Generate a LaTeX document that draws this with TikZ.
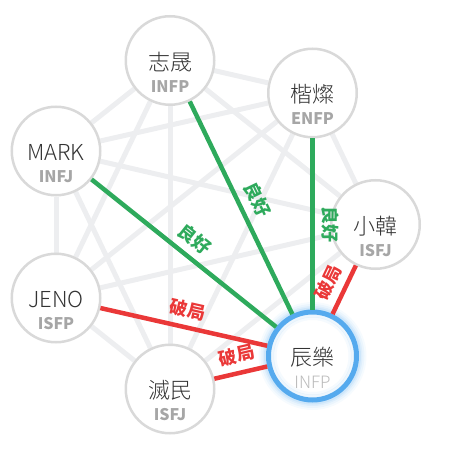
\documentclass[tikz,border=0pt]{standalone}
\usepackage{fontspec}
\setmainfont{Noto Sans CJK TC}
\newfontfamily\namefont{Noto Sans CJK TC Light}
\usetikzlibrary{backgrounds}
\definecolor{edgegray}{HTML}{EDEEF0}
\definecolor{ringgray}{HTML}{D9D9D9}
\definecolor{goodgreen}{HTML}{2EAA5C}
\definecolor{badred}{HTML}{EA3838}
\definecolor{focusblue}{HTML}{55AAEE}
\definecolor{namegray}{HTML}{333333}
\definecolor{mbtigray}{HTML}{A6A6A6}
\definecolor{mbtilight}{HTML}{BABABA}
\tikzset{
  person/.style={circle, draw=ringgray, line width=2.5pt, fill=white, minimum size=88.5pt, inner sep=0pt},
  focus/.style={circle, draw=focusblue, line width=5pt, fill=white, minimum size=88pt, inner sep=0pt},
  nametext/.style={text=namegray, font=\namefont\fontsize{22}{24}\selectfont, inner sep=0pt},
  mbtitext/.style={text=mbtigray, font=\bfseries\fontsize{16}{18}\selectfont, inner sep=0pt},
  mbtifocus/.style={text=mbtilight, font=\namefont\fontsize{17}{19}\selectfont, inner sep=0pt},
  bgedge/.style={draw=edgegray, line width=5pt},
  goodedge/.style={draw=goodgreen, line width=4.5pt},
  badedge/.style={draw=badred, line width=4.5pt},
  goodlab/.style={midway, sloped, above=7pt, inner sep=0pt, text=goodgreen, font=\bfseries\fontsize{18}{18}\selectfont},
  badlab/.style={midway, sloped, above=7pt, inner sep=0pt, text=badred, font=\bfseries\fontsize{18}{18}\selectfont}
}
\begin{document}
\begin{tikzpicture}[x=1pt,y=-1pt]
\useasboundingbox (0,0) rectangle (454,454);
% person circles
\node[person] (zs) at (170,60.5) {};
\node[person] (kc) at (312.5,93) {};
\node[person] (mk) at (56,151) {};
\node[person] (xh) at (375.5,224.5) {};
\node[person] (jn) at (56,298) {};
\node[person] (zm) at (170,389) {};
\node[focus] (cl) at (312.5,356) {};
% texts
\node[nametext] (zsn) at (170,62) {志晟};
\node[mbtitext] (zst) at (170,86.5) {INFP};
\node[nametext] (kcn) at (312.5,94.5) {楷燦};
\node[mbtitext] (kct) at (312.5,119) {ENFP};
\node[nametext] (mkn) at (56,152.5) {MARK};
\node[mbtitext] (mkt) at (56,177) {INFJ};
\node[nametext] (xhn) at (375.5,226) {小韓};
\node[mbtitext] (xht) at (375.5,250.5) {ISFJ};
\node[nametext] (jnn) at (56,299.5) {JENO};
\node[mbtitext] (jnt) at (56,324) {ISFP};
\node[nametext] (zmn) at (170,390.5) {滅民};
\node[mbtitext] (zmt) at (170,415) {ISFJ};
\node[nametext] (cln) at (312.5,357.5) {辰樂};
\node[mbtifocus] (clt) at (312.5,382) {INFP};
\begin{scope}[on background layer]
  % glow
  \foreach \r/\o in {54/0.05, 52/0.07, 50/0.09, 48.5/0.12} {
    \fill[focusblue, opacity=\o] (cl.center) circle (\r pt);
  }
  % background edges
  \foreach \a/\b in {zs/kc, zs/mk, zs/xh, zs/jn, zs/zm, kc/mk, kc/xh, kc/jn, kc/zm, mk/xh, mk/jn, mk/zm, xh/jn, xh/zm, jn/zm} {
    \draw[bgedge] (\a) -- (\b);
  }
\end{scope}
% inner glow
\draw[focusblue, opacity=0.10, line width=3pt] (cl.center) circle (40pt);
\draw[focusblue, opacity=0.06, line width=3pt] (cl.center) circle (37.5pt);
% relation edges
\draw[goodedge] (mk) -- node[goodlab] {良好} (cl);
\draw[goodedge] (zs) -- node[goodlab] {良好} (cl);
\draw[goodedge] (kc) -- node[goodlab] {良好} (cl);
\draw[badedge] (cl) -- node[badlab] {破局} (xh);
\draw[badedge] (jn) -- node[badlab] {破局} (cl);
\draw[badedge] (zm) -- node[badlab] {破局} (cl);
\end{tikzpicture}
\end{document}
